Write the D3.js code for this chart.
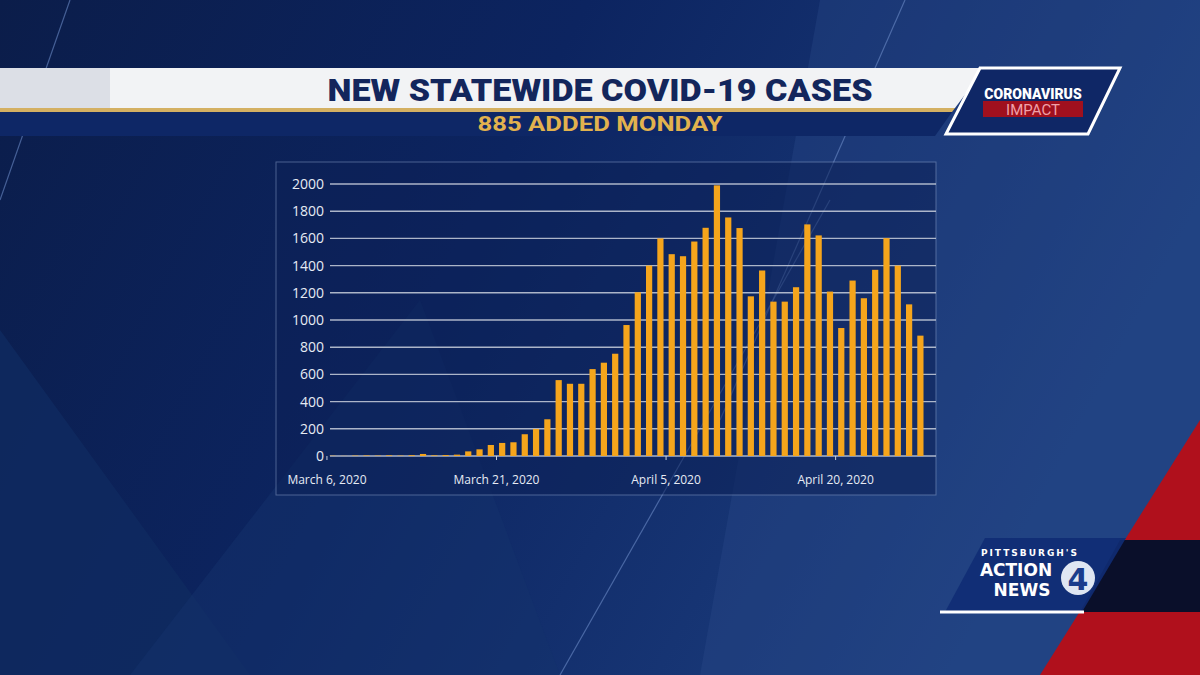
<!DOCTYPE html>
<html><head><meta charset="utf-8">
<script src="https://cdn.jsdelivr.net/npm/d3@7"></script>
<style>body{margin:0;background:#0a1f4e;}svg{display:block;}</style>
</head><body>
<svg id="c" width="1200" height="675"></svg>
<script>
const dates = d3.timeDay.range(new Date(2020,2,6), new Date(2020,3,28)).map(d3.timeFormat("%Y-%m-%d"));
const cases = [2,1,3,4,3,5,3,6,15,5,7,10,34,49,81,96,101,160,199,270,558,531,531,639,686,752,963,1204,1400,1600,1484,1469,1577,1678,1990,1754,1676,1174,1364,1135,1135,1241,1703,1622,1209,941,1290,1160,1369,1602,1400,1115,885];
const yTicks = [0,200,400,600,800,1000,1200,1400,1600,1800,2000];
const xLabels = {"2020-03-06":"March 6, 2020","2020-03-21":"March 21, 2020","2020-04-05":"April 5, 2020","2020-04-20":"April 20, 2020"};
const title = "NEW STATEWIDE COVID-19 CASES";
const subtitle = "885 ADDED MONDAY";

const svg = d3.select("#c");
const defs = svg.append("defs");
const bg = defs.append("linearGradient").attr("id","bg").attr("x1",0).attr("y1",0).attr("x2",1).attr("y2",0.3);
bg.append("stop").attr("offset","0").attr("stop-color","#0b1d4a");
bg.append("stop").attr("offset","0.45").attr("stop-color","#0c2460");
bg.append("stop").attr("offset","1").attr("stop-color","#1d3f80");
svg.append("rect").attr("width",1200).attr("height",675).attr("fill","url(#bg)");
svg.append("path").attr("d","M0,330 L250,675 L0,675Z").attr("fill","#0f2a60").attr("opacity",0.8);
svg.append("path").attr("d","M130,675 L420,300 L560,675Z").attr("fill","#14326c").attr("opacity",0.5);
svg.append("path").attr("d","M820,0 L1200,0 L1200,675 L700,675Z").attr("fill","#2a4b8a").attr("opacity",0.35);
[[70,0,0,200],[905,0,720,420],[560,675,830,200]].forEach(l=>svg.append("line").attr("x1",l[0]).attr("y1",l[1]).attr("x2",l[2]).attr("y2",l[3]).attr("stroke","#6d8cc8").attr("stroke-width",1.2).attr("opacity",0.6));
svg.append("path").attr("d","M1200,420 L1200,675 L1040,675Z").attr("fill","#b0101c");
svg.append("path").attr("d","M1120,540 L1200,540 L1200,612 L1080,612Z").attr("fill","#0a0f2a");

svg.append("path").attr("d","M0,68 L985,68 L955,108 L0,108Z").attr("fill","#f2f3f5");
svg.append("rect").attr("x",0).attr("y",68).attr("width",110).attr("height",40).attr("fill","#dcdfe6");
svg.append("path").attr("d","M0,108 L955,108 L952,112 L0,112Z").attr("fill","#d4b062");
svg.append("path").attr("d","M0,112 L952,112 L935,136 L0,136Z").attr("fill","#0e2766");
svg.append("text").attr("x",600).attr("y",101).attr("text-anchor","middle").attr("font-family","Roboto, 'Liberation Sans Narrow', sans-serif").attr("font-weight",900).attr("font-size",32).attr("fill","#13265c").attr("textLength",545).attr("lengthAdjust","spacingAndGlyphs").text(title);
svg.append("text").attr("x",600).attr("y",131).attr("text-anchor","middle").attr("font-family","Roboto, sans-serif").attr("font-weight",700).attr("font-size",21).attr("fill","#e2b24e").attr("textLength",245).attr("lengthAdjust","spacingAndGlyphs").text(subtitle);
svg.append("path").attr("d","M980,68 L1120,68 L1088,134 L946,134Z").attr("fill","#0f2766").attr("stroke","#ffffff").attr("stroke-width",3);
svg.append("text").attr("x",1033).attr("y",99).attr("text-anchor","middle").attr("font-family","Roboto, sans-serif").attr("font-weight",900).attr("font-size",14).attr("fill","#fff").text("CORONAVIRUS");
svg.append("rect").attr("x",983).attr("y",101).attr("width",100).attr("height",16).attr("fill","#a0101e");
svg.append("text").attr("x",1033).attr("y",115).attr("text-anchor","middle").attr("font-family","Roboto, sans-serif").attr("font-size",15).attr("fill","#f0a0a8").text("IMPACT");
svg.append("path").attr("d","M985,538 L1126,538 L1082,612 L945,612Z").attr("fill","#102c74").attr("opacity",0.9);
svg.append("line").attr("x1",940).attr("y1",612).attr("x2",1084).attr("y2",612).attr("stroke","#fff").attr("stroke-width",3);
svg.append("text").attr("x",1030).attr("y",556).attr("text-anchor","middle").attr("font-family","'DejaVu Sans', sans-serif").attr("font-weight",700).attr("font-size",9).attr("letter-spacing",2).attr("fill","#fff").text("PITTSBURGH'S");
svg.append("text").attr("x",1016).attr("y",576).attr("text-anchor","middle").attr("font-family","'DejaVu Sans', sans-serif").attr("font-weight",700).attr("font-size",17).attr("fill","#fff").text("ACTION");
svg.append("text").attr("x",1022).attr("y",596).attr("text-anchor","middle").attr("font-family","'DejaVu Sans', sans-serif").attr("font-weight",700).attr("font-size",17).attr("fill","#fff").text("NEWS");
svg.append("circle").attr("cx",1078).attr("cy",578).attr("r",17).attr("fill","#dfe6f2");
svg.append("text").attr("x",1078).attr("y",590).attr("text-anchor","middle").attr("font-family","'DejaVu Sans', sans-serif").attr("font-weight",700).attr("font-size",30).attr("fill","#1a3c8c").text("4");

svg.append("rect").attr("x",276).attr("y",162).attr("width",660).attr("height",333).attr("fill","#0c2157").attr("opacity",0.55).attr("stroke","#7f93bd").attr("stroke-width",1);

const x = d3.scaleBand().domain(dates).range([327,926]).paddingInner(0.45).paddingOuter(0.22);
const y = d3.scaleLinear().domain([0,2000]).range([456,184]);

svg.append("g").selectAll("line").data(yTicks).join("line")
  .attr("x1",330).attr("x2",936).attr("y1",d=>y(d)).attr("y2",d=>y(d))
  .attr("stroke","#c8cfdc").attr("stroke-width",1.4).attr("opacity",0.85);
svg.append("g").selectAll("text").data(yTicks).join("text")
  .attr("x",324).attr("y",d=>y(d)+5).attr("text-anchor","end")
  .attr("font-family","'Open Sans', sans-serif").attr("font-size",14).attr("fill","#e6ebf4").text(d=>d);

svg.append("g").selectAll("rect").data(dates).join("rect")
  .attr("x",d=>x(d)).attr("width",x.bandwidth())
  .attr("y",(d,i)=>y(cases[i])).attr("height",(d,i)=>y(0)-y(cases[i]))
  .attr("fill","#f5a51c");

const step = x.step();
Object.keys(xLabels).forEach(k=>{
  const px = x(k) - step*x.paddingInner()/2;
  svg.append("line").attr("x1",px).attr("x2",px).attr("y1",456).attr("y2",460).attr("stroke","#c8cfdc");
  svg.append("text").attr("x",px).attr("y",484).attr("text-anchor","middle")
    .attr("font-family","'Open Sans', sans-serif").attr("font-size",12).attr("fill","#e6ebf4").text(xLabels[k]);
});
</script>
</body></html>
